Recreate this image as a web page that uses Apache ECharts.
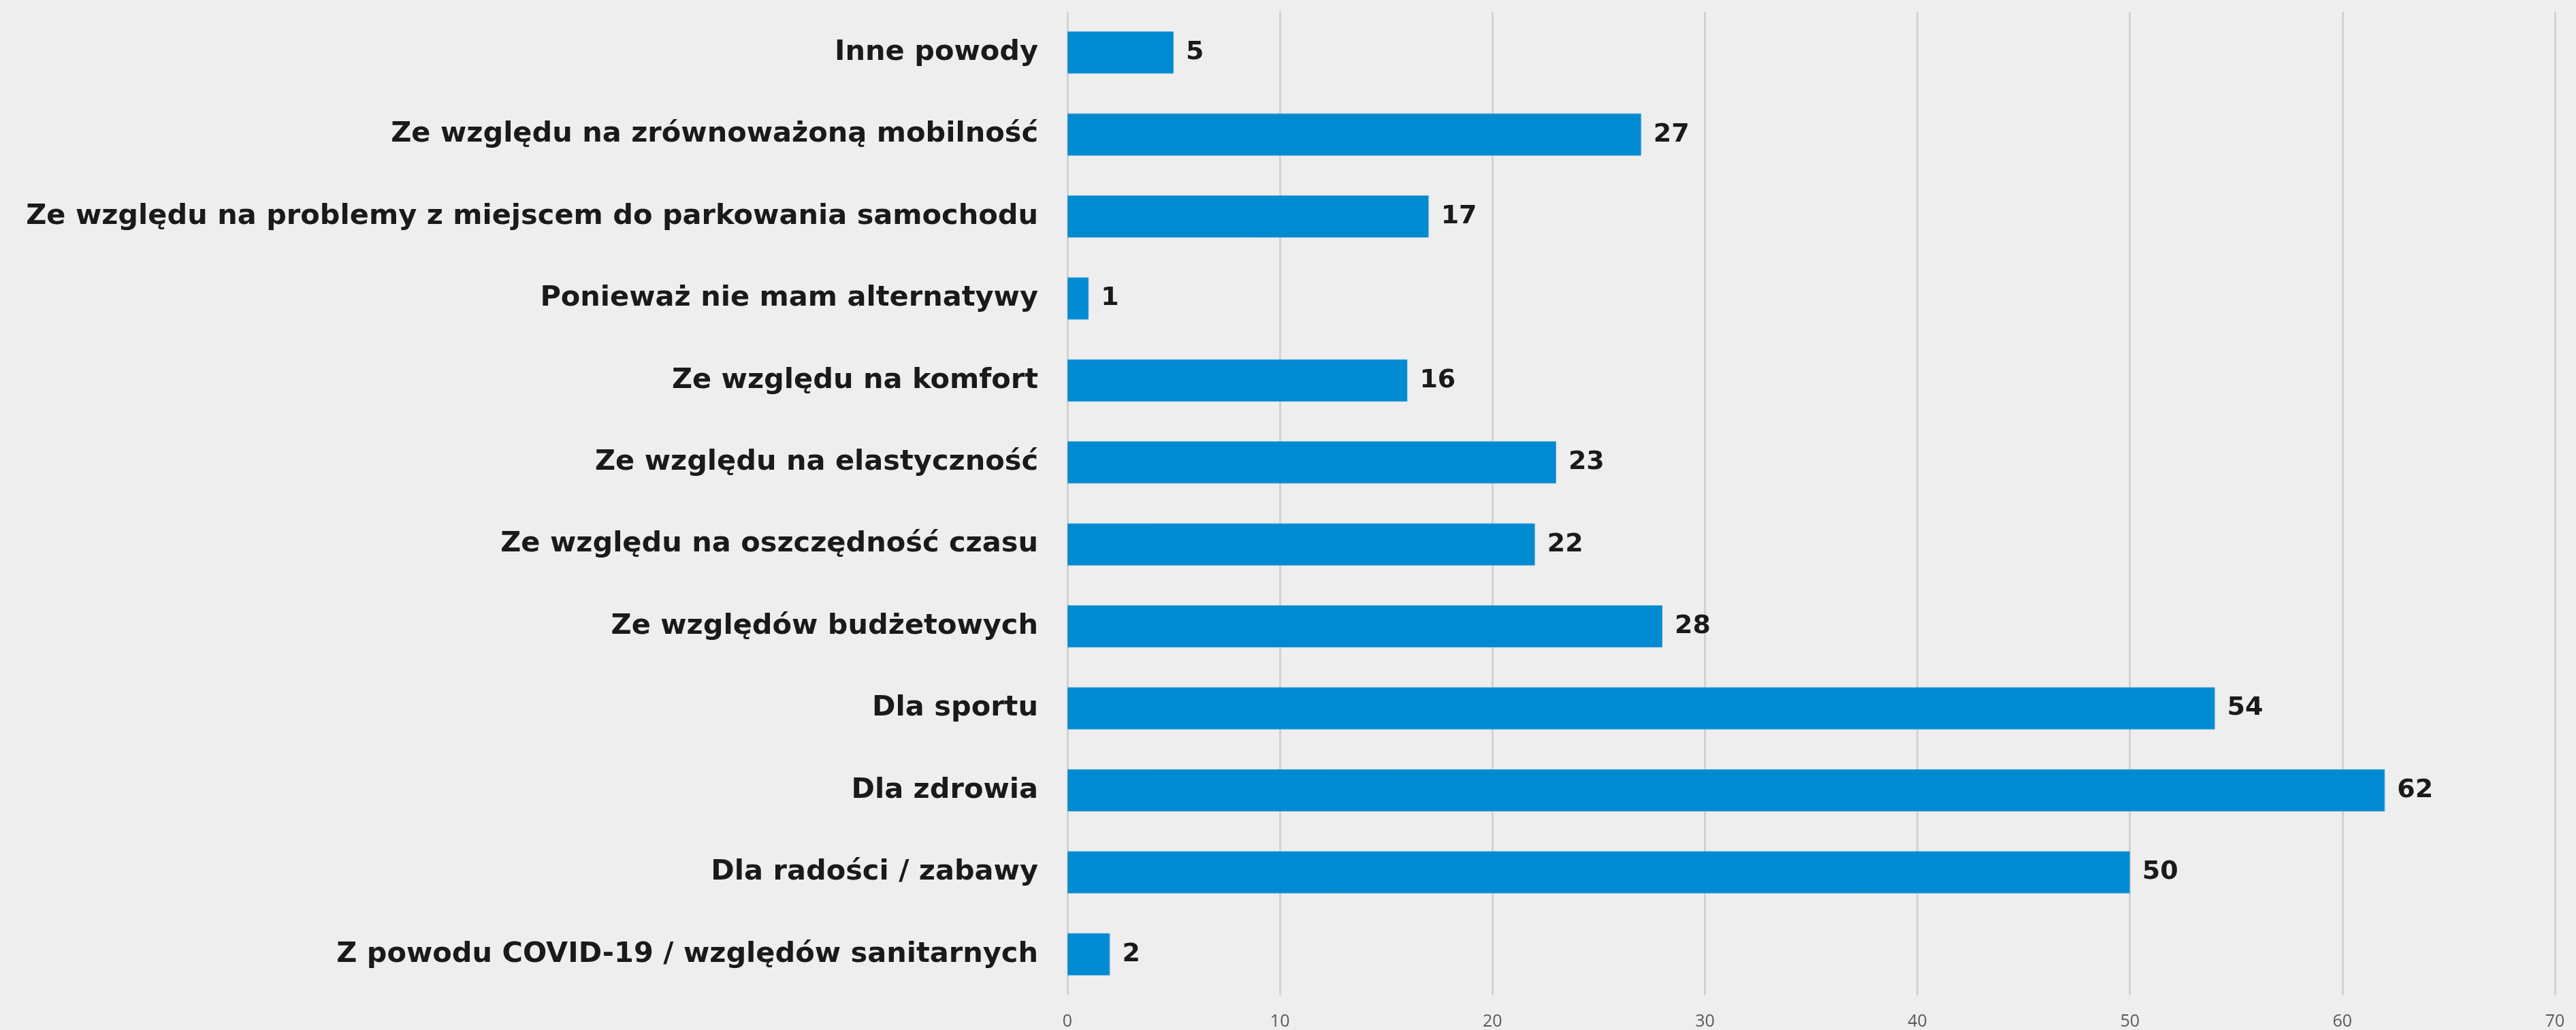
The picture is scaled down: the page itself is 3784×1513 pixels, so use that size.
<!DOCTYPE html>
<html>
<head>
<meta charset="utf-8">
<script src="https://cdn.jsdelivr.net/npm/echarts@6/dist/echarts.min.js"></script>
<style>
html, body { margin: 0; padding: 0; background: #eeeeee; }
#chart { width: 3784px; height: 1513px; }
</style>
</head>
<body>
<div id="chart"></div>
<script>
// kategorie od góry do dołu
var categories = [
	"Inne powody",
	"Ze względu na zrównoważoną mobilność",
	"Ze względu na problemy z miejscem do parkowania samochodu",
	"Ponieważ nie mam alternatywy",
	"Ze względu na komfort",
	"Ze względu na elastyczność",
	"Ze względu na oszczędność czasu",
	"Ze względów budżetowych",
	"Dla sportu",
	"Dla zdrowia",
	"Dla radości / zabawy",
	"Z powodu COVID-19 / względów sanitarnych"
];
var values = [5, 27, 17, 1, 16, 23, 22, 28, 54, 62, 50, 2];
var axisMin = 0;
var axisMax = 70;
var axisStep = 10;

var myChart = echarts.init(document.getElementById("chart"));
var option = {
	backgroundColor: "#eeeeee",
	animation: false,
	grid: {
		left: 1568,
		right: 31,
		top: 17,
		bottom: 50
	},
	xAxis: {
		type: "value",
		min: axisMin,
		max: axisMax,
		interval: axisStep,
		axisLine: { show: false },
		axisTick: { show: false },
		axisLabel: {
			show: true,
			margin: 26,
			fontSize: 25,
			color: "#595959",
			fontFamily: "Open Sans"
		},
		splitLine: {
			show: true,
			lineStyle: { color: "#d2d2d2", width: 3 }
		}
	},
	yAxis: {
		type: "category",
		data: categories,
		inverse: true,
		axisLine: { show: false },
		axisTick: { show: false },
		axisLabel: {
			margin: 43,
			fontSize: 41.5,
			fontWeight: "bold",
			color: "#1a1a1a",
			fontFamily: "DejaVu Sans"
		}
	},
	series: [{
		type: "bar",
		data: values,
		barWidth: 62,
		itemStyle: {
			color: "#008ad2",
			borderColor: "#3a9fd8",
			borderWidth: 1
		},
		label: {
			show: true,
			position: "right",
			distance: 18,
			fontSize: 38,
			fontWeight: "bold",
			color: "#1a1a1a",
			fontFamily: "DejaVu Sans"
		}
	}]
};
myChart.setOption(option, true);
</script>
</body>
</html>
